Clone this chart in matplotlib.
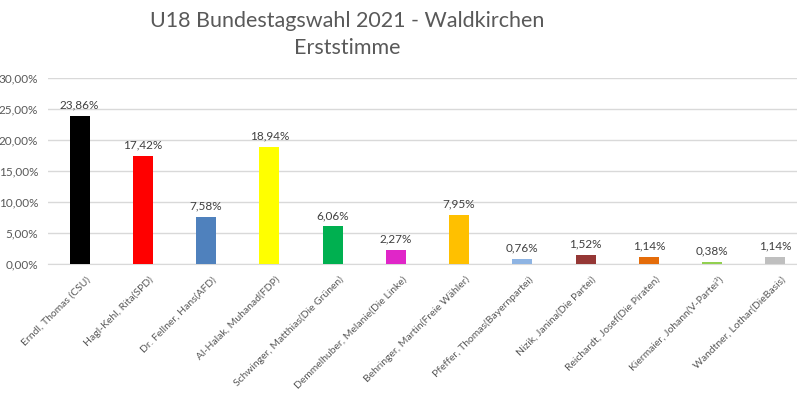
import matplotlib
matplotlib.use("Agg")
import matplotlib.pyplot as plt
from matplotlib.ticker import FuncFormatter
import matplotlib.transforms as mtransforms

candidates = [
    "Erndl, Thomas (CSU)",
    "Hagl-Kehl, Rita(SPD)",
    "Dr. Fellner, Hans(AFD)",
    "Al-Halak, Muhanad(FDP)",
    "Schwinger, Matthias(Die Grünen)",
    "Demmelhuber, Melanie(Die Linke)",
    "Behringer, Martin(Freie Wähler)",
    "Pfeffer, Thomas(Bayernpartei)",
    "Nizik, Janina(Die Partei)",
    "Reichardt, Josef(Die Piraten)",
    "Kiermaier, Johann(V-Partei³)",
    "Wandtner, Lothar(DieBasis)",
]
values = [23.86, 17.42, 7.58, 18.94, 6.06, 2.27, 7.95, 0.76, 1.52, 1.14, 0.38, 1.14]
colors = ["#000000", "#FF0000", "#4F81BD", "#FFFF00", "#00B050", "#E026C8",
          "#FFC000", "#8EB4E3", "#953735", "#E46C0A", "#92D050", "#BFBFBF"]
yticks = [0, 5, 10, 15, 20, 25, 30]

plt.rcParams['font.family'] = ['Lato', 'DejaVu Sans']
gray = "#595959"

fig = plt.figure(figsize=(7.97, 3.97), dpi=100)
ax = fig.add_axes([48/797, (397-264)/397, (807-48)/797, (264-78.3)/397])

x = list(range(len(values)))
ax.bar(x, values, width=0.316, color=colors, zorder=3)
for xi, v in zip(x, values):
    ax.annotate(f"{v:.2f}%".replace(".", ","), (xi, v), xytext=(0, 4),
                textcoords="offset points", ha="center", va="bottom",
                fontsize=8.5, color="#404040")

ax.set_xlim(-0.5, len(values) - 0.5)
ax.set_ylim(0, 30)
ax.set_yticks(yticks)
ax.yaxis.set_major_formatter(FuncFormatter(lambda v, p: f"{v:.2f}%".replace(".", ",")))
ax.grid(axis="y", color="#D9D9D9", linewidth=1, zorder=0)
for s in ["top", "right", "left"]:
    ax.spines[s].set_visible(False)
ax.spines["bottom"].set_color("#D9D9D9")
ax.tick_params(axis="both", length=0, colors=gray, labelsize=8.5)
ax.tick_params(axis="y", pad=7)

ax.set_xticks(x)
ax.set_xticklabels(candidates, rotation=45, ha="right", va="top",
                   rotation_mode="anchor", fontsize=7.5, color=gray)
offset = mtransforms.ScaledTranslation(6/100, -6/100, fig.dpi_scale_trans)
for lbl in ax.get_xticklabels():
    lbl.set_transform(lbl.get_transform() + offset)

fig.text(347/797, 1 - 21/397, "U18 Bundestagswahl 2021 - Waldkirchen",
         ha="center", va="center", fontsize=15.5, color=gray)
fig.text(347/797, 1 - 48/397, "Erststimme",
         ha="center", va="center", fontsize=15.5, color=gray)

fig.savefig("out.png", dpi=100)
